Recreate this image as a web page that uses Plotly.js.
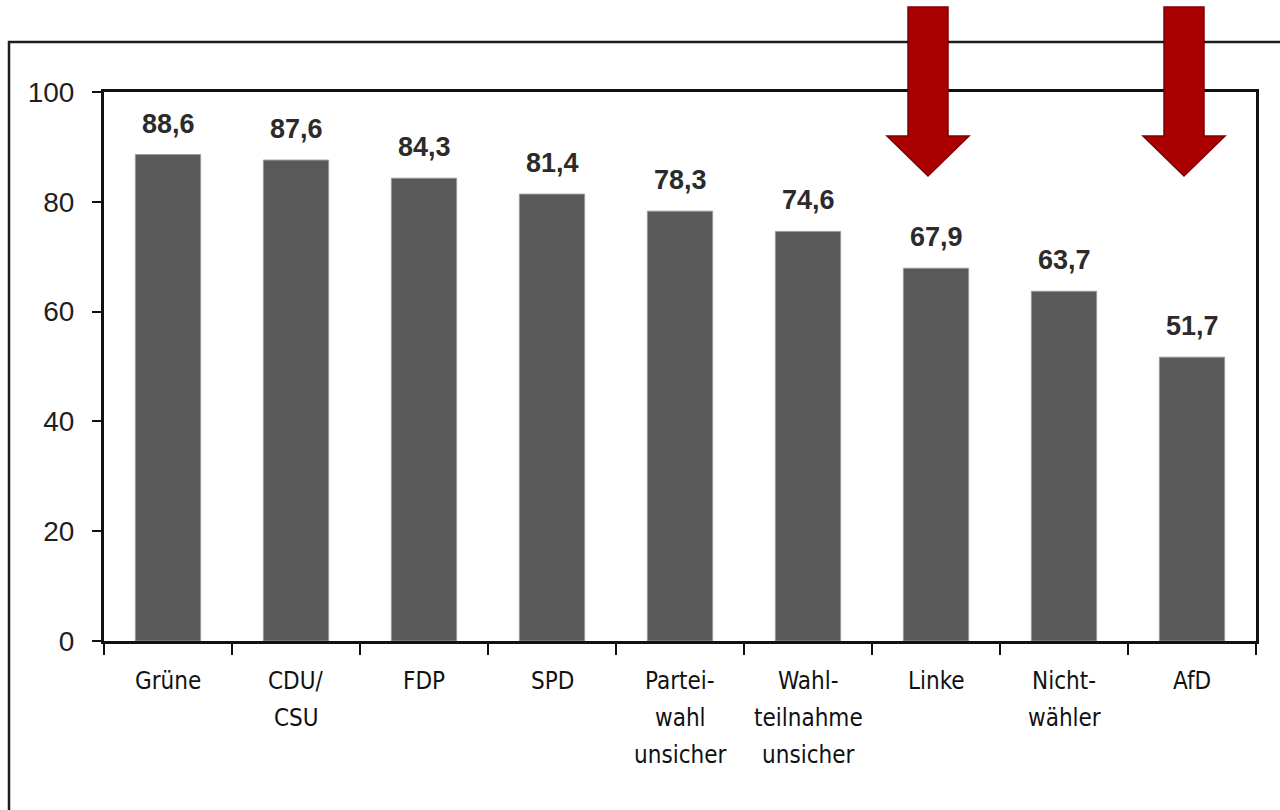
<!DOCTYPE html>
<html>
<head>
<meta charset="utf-8">
<script src="https://cdn.plot.ly/plotly-3.0.1.min.js"></script>
<style>
  html, body { margin: 0; padding: 0; background: #ffffff; }
  #chart { width: 1280px; height: 810px; }
</style>
</head>
<body>
<div id="chart"></div>
<script>
// ---- data ----
const categories = ["Grüne", "CDU/CSU", "FDP", "SPD", "Parteiwahl unsicher",
                    "Wahlteilnahme unsicher", "Linke", "Nichtwähler", "AfD"];
const tickLines = [
  ["Grüne"],
  ["CDU/", "CSU"],
  ["FDP"],
  ["SPD"],
  ["Partei-", "wahl", "unsicher"],
  ["Wahl-", "teilnahme", "unsicher"],
  ["Linke"],
  ["Nicht-", "wähler"],
  ["AfD"]
];
const values = [88.6, 87.6, 84.3, 81.4, 78.3, 74.6, 67.9, 63.7, 51.7];
const yTicks = [0, 20, 40, 60, 80, 100];
const highlighted = ["Linke", "AfD"];

// ---- layout helpers ----
const W = 1280, H = 810;
const M = { l: 104, r: 24, t: 92, b: 169 };
const PW = W - M.l - M.r, PH = H - M.t - M.b;
const X = px => (px - M.l) / PW;
const Y = py => (H - M.b - py) / PH;

const labelFont = "Liberation Sans, Arial, sans-serif";
const narrowFont = "DejaVu Sans Condensed";

const annotations = [];
// value labels above bars
categories.forEach((c, i) => {
  annotations.push({
    x: c, y: values[i], xref: "x", yref: "y",
    text: values[i].toFixed(1).replace(".", ","),
    showarrow: false, yanchor: "bottom", yshift: 14,
    font: { family: labelFont, size: 27, color: "#2b2b2b", weight: "bold" }
  });
});
// category labels (one annotation per line to reproduce the wide line spacing)
categories.forEach((c, i) => {
  tickLines[i].forEach((line, j) => {
    annotations.push({
      x: c, y: 0, xref: "x", yref: "paper",
      text: line, showarrow: false, yanchor: "middle",
      yshift: -40 - 37 * j,
      font: { family: narrowFont, size: 24, color: "#111111" }
    });
  });
});

const shapes = [];
// outer frame (cut off at the right and bottom)
shapes.push({
  type: "path", xref: "paper", yref: "paper",
  path: `M ${X(9)} ${Y(815)} L ${X(9)} ${Y(42)} L ${X(1285)} ${Y(42)}`,
  line: { color: "#1e1e1e", width: 2.5 }
});
// red arrows above highlighted categories
highlighted.forEach(name => {
  const idx = categories.indexOf(name);
  const cx = M.l + (idx + 0.5) * (PW / categories.length) - 8;
  const sw = 20, hw = 41, top = 7, base = 136, tip = 176;
  const p = `M ${X(cx - sw)} ${Y(top)} L ${X(cx + sw)} ${Y(top)} L ${X(cx + sw)} ${Y(base)} ` +
            `L ${X(cx + hw)} ${Y(base)} L ${X(cx)} ${Y(tip)} L ${X(cx - hw)} ${Y(base)} ` +
            `L ${X(cx - sw)} ${Y(base)} Z`;
  shapes.push({
    type: "path", xref: "paper", yref: "paper", path: p,
    fillcolor: "#aa0000", line: { color: "#7d0000", width: 1.5 }, layer: "above"
  });
});

const trace = {
  type: "bar",
  x: categories,
  y: values,
  marker: { color: "#595959", line: { color: "#9a9a9a", width: 1 } },
  hoverinfo: "x+y"
};

const layout = {
  width: W, height: H,
  margin: M,
  paper_bgcolor: "#ffffff",
  plot_bgcolor: "#ffffff",
  showlegend: false,
  bargap: 0.49,
  xaxis: {
    type: "category",
    range: [-0.5, categories.length - 0.5],
    showline: true, linecolor: "#111111", linewidth: 3, mirror: true,
    ticks: "outside", tickson: "boundaries", ticklen: 11, tickwidth: 2, tickcolor: "#111111",
    showticklabels: false, showgrid: false, zeroline: false, fixedrange: true
  },
  yaxis: {
    range: [0, 100],
    tickvals: yTicks,
    ticktext: yTicks.map(String),
    showline: true, linecolor: "#111111", linewidth: 3, mirror: true,
    ticks: "outside", ticklen: 9, tickwidth: 2, tickcolor: "#111111",
    ticklabelstandoff: 12,
    tickfont: { family: labelFont, size: 28, color: "#1f1f1f" },
    showgrid: false, zeroline: false, fixedrange: true
  },
  annotations: annotations,
  shapes: shapes
};

Plotly.newPlot("chart", [trace], layout, { displayModeBar: false, staticPlot: true });
</script>
</body>
</html>
